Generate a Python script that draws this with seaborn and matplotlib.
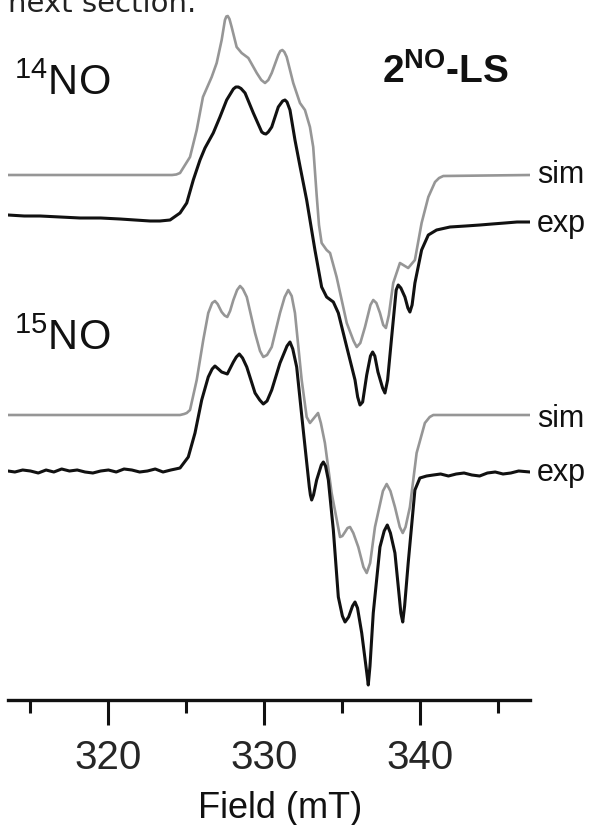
import numpy as np
import pandas as pd
import matplotlib
matplotlib.use("Agg")
import matplotlib.pyplot as plt
import seaborn as sns

# ---------------- data (field in mT, intensity in a.u.) ----------------
# 14NO simulation
sim14_field = [313.56, 324.08, 324.35, 324.59, 325.23, 325.66, 326.06, 326.62, 326.94, 327.26,
               327.47, 327.56, 327.65, 327.76, 327.90, 328.22, 328.54, 328.97, 329.51, 329.80,
               330.04, 330.25, 330.47, 330.89, 331.02, 331.15, 331.28, 331.43, 331.85, 332.28,
               332.60, 332.92, 333.13, 333.35, 333.50, 333.67, 333.99, 334.21, 334.63, 335.28,
               335.72, 335.92, 336.15, 336.45, 336.80, 336.98, 337.18, 337.41, 337.62, 337.79,
               337.98, 338.26, 338.69, 339.22, 339.65, 340.08, 340.51, 340.94, 341.20, 341.47,
               347.03]
sim14_int = [0, 0, 0.5, 2, 18, 45, 78, 98, 112, 135,
             155, 158.5, 159, 156, 148, 128, 122, 117, 102, 95,
             92, 95, 102, 120, 124, 125, 123, 118, 92, 72,
             65, 48, 28, -20, -50, -68, -75, -78, -102, -148,
             -166, -172, -168, -152, -130, -125, -128, -138, -150, -153,
             -140, -108, -88, -93, -85, -48, -22, -7, -3, -1,
             0]

# 14NO experiment
exp14_field = [313.56, 314.60, 315.62, 316.90, 318.18, 319.50, 320.74, 321.70, 322.67, 323.30,
               323.95, 324.59, 325.02, 325.44, 325.87, 326.19, 326.72, 327.15, 327.58, 328.01,
               328.17, 328.33, 328.50, 328.76, 329.29, 329.83, 329.97, 330.10, 330.25, 330.47,
               330.89, 331.17, 331.32, 331.45, 331.64, 331.96, 332.28, 332.71, 333.24, 333.67,
               333.99, 334.42, 334.74, 335.28, 335.81, 335.98, 336.13, 336.30, 336.56, 336.80,
               336.94, 337.08, 337.28, 337.58, 337.73, 337.90, 338.16, 338.45, 338.58, 338.75,
               339.01, 339.20, 339.33, 339.47, 339.65, 340.08, 340.51, 341.04, 341.90, 342.90,
               343.82, 344.60, 345.42, 346.20, 347.03]
exp14_int = [5, 4, 4, 3, 2, 2, 1, 0, -1, -1,
             0, 7, 17, 40, 60, 72, 87, 103, 120, 131,
             133, 133, 131.5, 127, 107, 88, 86.5, 86, 88, 93,
             113, 119, 120, 118, 110, 80, 54, 20, -30, -67,
             -77, -82, -93, -127, -160, -177, -185, -182, -155, -136,
             -132, -136, -152, -168, -173, -160, -117, -70, -65, -68,
             -77, -88, -92, -85, -63, -30, -15, -10, -7, -6,
             -5, -4, -3, -2, -2]

# 15NO simulation
sim15_field = [313.56, 324.59, 324.85, 325.02, 325.23, 325.66, 326.08, 326.40, 326.65, 326.83,
               327.00, 327.26, 327.45, 327.62, 327.80, 328.01, 328.25, 328.44, 328.62, 328.87,
               329.40, 329.72, 329.93, 330.17, 330.47, 331.00, 331.30, 331.53, 331.75, 331.96,
               332.39, 332.71, 332.92, 333.18, 333.44, 333.62, 333.88, 334.31, 334.85, 335.00,
               335.17, 335.33, 335.49, 335.70, 336.02, 336.35, 336.56, 336.78, 337.09, 337.60,
               337.84, 338.08, 338.37, 338.68, 338.87, 339.05, 339.33, 339.76, 340.29, 340.60,
               340.83, 347.03]
sim15_int = [0, 0, 1, 2, 5, 35, 75, 102, 112, 114,
             111, 103, 99.5, 98, 104, 115, 125, 129, 126, 118,
             82, 64, 58, 60, 68, 102, 118, 125, 119, 102,
             35, -2, -8, -3, 2, -8, -28, -78, -122, -121,
             -117, -113, -112, -118, -132, -152, -158, -148, -112, -76,
             -69, -76, -92, -112, -118, -112, -92, -38, -8, -2,
             0, 0]

# 15NO experiment
exp15_field = [313.56, 314.00, 314.50, 315.00, 315.50, 316.00, 316.50, 317.00, 317.50, 318.00,
               318.50, 319.00, 319.50, 320.00, 320.50, 321.00, 321.50, 322.00, 322.50, 323.00,
               323.50, 324.00, 324.30, 324.59, 325.12, 325.55, 325.98, 326.40, 326.65, 326.83,
               327.05, 327.26, 327.62, 328.01, 328.20, 328.39, 328.60, 328.87, 329.40, 329.70,
               329.93, 330.17, 330.47, 331.00, 331.45, 331.64, 331.82, 332.07, 332.49, 332.88,
               332.95, 333.03, 333.15, 333.35, 333.65, 333.78, 333.92, 334.10, 334.42, 334.74,
               335.00, 335.17, 335.40, 335.65, 335.81, 335.97, 336.24, 336.55, 336.66, 336.77,
               336.98, 337.41, 337.68, 337.88, 338.08, 338.37, 338.75, 338.87, 338.99, 339.22,
               339.65, 339.97, 340.40, 340.83, 341.30, 341.80, 342.30, 342.80, 343.30, 343.80,
               344.30, 344.80, 345.30, 345.80, 346.30, 347.03]
exp15_int = [0, -1, 1, 0, -2, 1, -1, 2, 0, 1,
             -1, -2, 0, 1, -1, 2, 1, -1, 0, 2,
             -1, 1, 2, 3, 14, 38, 71, 94, 102, 105,
             102, 99, 97, 109, 114, 117, 113, 104, 78, 71,
             67, 70, 81, 108, 125, 129, 122, 104, 41, -16,
             -24, -29, -24, -9, 6, 9, 5, -9, -59, -126,
             -145, -151, -146, -135, -131, -137, -162, -200, -214, -195,
             -142, -76, -60, -54, -62, -82, -142, -151, -135, -92,
             -19, -7, -5, -4, -3, -5, -3, -2, -4, -5,
             -2, -1, -3, -2, 0, -1]

# vertical offsets of the stacked traces
offsets = {"sim14": 525, "exp14": 480, "sim15": 285, "exp15": 229}

x_major = [320, 330, 340]
x_minor = [315, 325, 335, 345]
x_range = (313.56, 347.03)

# ---------------- style ----------------
sns.set_theme(style="white")
plt.rcParams["font.family"] = ["Liberation Sans", "DejaVu Sans"]
plt.rcParams["mathtext.fontset"] = "custom"
plt.rcParams["mathtext.rm"] = "Liberation Sans"
plt.rcParams["mathtext.bf"] = "Liberation Sans:bold"
plt.rcParams["mathtext.it"] = "Liberation Sans:italic"

W, H = 597, 825
fig = plt.figure(figsize=(W / 100, H / 100), dpi=100)
fig.patch.set_facecolor("white")
ax = fig.add_axes([8 / W, 125 / H, 522 / W, 700 / H])
ax.set_facecolor("white")

GRAY = "#969696"
BLACK = "#111111"

traces = [
    ("sim14", sim14_field, sim14_int, GRAY, 1.9),
    ("exp14", exp14_field, exp14_int, BLACK, 2.2),
    ("sim15", sim15_field, sim15_int, GRAY, 1.9),
    ("exp15", exp15_field, exp15_int, BLACK, 2.2),
]
for name, fx, fy, col, lw in traces:
    df = pd.DataFrame({"field": fx, "signal": np.asarray(fy, float) + offsets[name]})
    sns.lineplot(data=df, x="field", y="signal", ax=ax, color=col, linewidth=lw,
                 estimator=None, sort=False, solid_joinstyle="round", solid_capstyle="round")

ax.set_xlim(*x_range)
ax.set_ylim(0, 700)
for s in ["top", "left", "right"]:
    ax.spines[s].set_visible(False)
ax.spines["bottom"].set_linewidth(2.4)
ax.spines["bottom"].set_color(BLACK)
ax.set_yticks([])
ax.set_ylabel("")
ax.set_xlabel("")
ax.set_xticks(x_major)
ax.set_xticks(x_minor, minor=True)
ax.tick_params(axis="x", which="major", direction="out", length=18, width=2.2,
               color=BLACK, pad=10, labelsize=29, bottom=True)
ax.tick_params(axis="x", which="minor", direction="out", length=9.5, width=2.2,
               color=BLACK, bottom=True)


def ftxt(x, y, s, **kw):
    fig.text(x / W, 1 - y / H, s, **kw)


ftxt(280, 818, "Field (mT)", ha="center", va="baseline", fontsize=26, color=BLACK)

ftxt(8, 12, "next section.", ha="left", va="baseline", fontsize=21,
     family=["DejaVu Sans"], color="#222222")
ftxt(14, 95, r"$^{14}$NO", ha="left", va="baseline", fontsize=30, color=BLACK)
ftxt(14, 350, r"$^{15}$NO", ha="left", va="baseline", fontsize=30, color=BLACK)
ftxt(382, 83, r"2$^{\mathbf{NO}}$-LS", ha="left", va="baseline", fontsize=28,
     fontweight="bold", color=BLACK)

for lab, yb in [("sim", 183), ("exp", 232), ("sim", 427), ("exp", 481)]:
    ftxt(537, yb, lab, ha="left", va="baseline", fontsize=22, color=BLACK)

fig.savefig("out.png", dpi=100, facecolor="white")
